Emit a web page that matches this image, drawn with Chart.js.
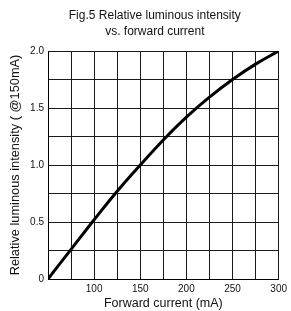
<!DOCTYPE html>
<html>
<head>
<meta charset="utf-8">
<script src="https://cdn.jsdelivr.net/npm/chart.js@4.4.0/dist/chart.umd.min.js"></script>
<style>
  html, body { margin: 0; padding: 0; background: #fff; }
  #wrap { width: 291px; height: 311px; }
</style>
</head>
<body>
<div id="wrap"><canvas id="c" width="291" height="311"></canvas></div>
<script>
"use strict";

// ── Data ──────────────────────────────────────────────────────────
const CURRENT   = [50, 75, 100, 125, 150, 175, 200, 225, 250, 275, 300];
const INTENSITY = [0, 0.26, 0.52, 0.77, 1.0, 1.22, 1.42, 1.595, 1.75, 1.885, 2.0];
const X_LABELS  = [100, 150, 200, 250, 300];
const Y_LABELS  = [0, 0.5, 1.0, 1.5, 2.0];
const TITLE     = ["Fig.5 Relative luminous intensity", "vs. forward current"];

const FONT = "'Liberation Sans', Arial, sans-serif";
const GRID = "#1a1a1a";

Chart.defaults.font.family = FONT;
Chart.defaults.color = "#111";

// title sits a bit left of the plot centre in the original figure
const figTitle = {
  id: "figTitle",
  afterDraw(chart) {
    const { ctx, chartArea } = chart;
    const cx = (chartArea.left + chartArea.right) / 2 - 8.5;
    ctx.save();
    ctx.font = "12px " + FONT;
    ctx.fillStyle = "#111";
    ctx.textAlign = "center";
    ctx.textBaseline = "middle";
    TITLE.forEach((line, i) => ctx.fillText(line, cx, chartArea.top - 35 + i * 16));
    ctx.restore();
  }
};

new Chart(document.getElementById("c"), {
  type: "line",
  data: {
    datasets: [{
      data: CURRENT.map((x, i) => ({ x, y: INTENSITY[i] })),
      borderColor: "#000",
      borderWidth: 3,
      pointRadius: 0,
      tension: 0.4,
      fill: false,
    }]
  },
  options: {
    responsive: false,
    animation: false,
    events: [],
    layout: { padding: { left: 0, right: 6, top: 51, bottom: 0 } },
    plugins: {
      legend: { display: false },
      tooltip: { enabled: false },
      title: { display: false },
    },
    scales: {
      x: {
        type: "linear",
        min: 50, max: 300,
        ticks: {
          stepSize: 25,
          font: { size: 10 },
          padding: 4,
          maxRotation: 0,
          autoSkip: false,
          callback: v => X_LABELS.includes(v) ? String(v) : "",
        },
        grid: { color: GRID, lineWidth: 1, drawTicks: false },
        border: { color: "#000", width: 1 },
        title: {
          display: true,
          text: "Forward current (mA)",
          font: { size: 12.5 },
          padding: { top: 3, bottom: 0 },
        },
        afterFit: s => { s.height = 32; },
      },
      y: {
        min: 0, max: 2,
        ticks: {
          stepSize: 0.25,
          font: { size: 10 },
          padding: 4,
          autoSkip: false,
          callback: v => Y_LABELS.includes(v) ? (v === 0 ? "0" : v.toFixed(1)) : "",
        },
        grid: { color: GRID, lineWidth: 1, drawTicks: false },
        border: { color: "#000", width: 1 },
        title: {
          display: true,
          text: "Relative luminous intensity ( @150mA)",
          font: { size: 12.8 },
          padding: { top: 8, bottom: 0 },
        },
        afterFit: s => { s.width = 48; },
      }
    }
  },
  plugins: [figTitle]
});
</script>
</body>
</html>
